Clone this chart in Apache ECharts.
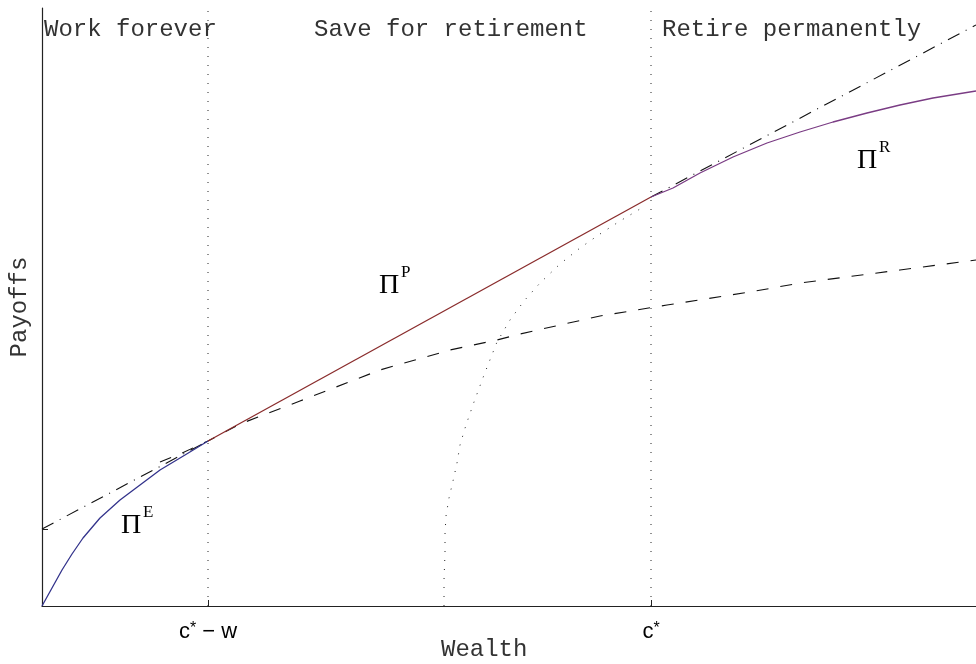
<!DOCTYPE html>
<html>
<head>
<meta charset="utf-8">
<script src="https://cdn.jsdelivr.net/npm/echarts@6/dist/echarts.min.js"></script>
<style>
  html, body { margin: 0; padding: 0; background: #fff; }
  #chart { width: 976px; height: 664px; }
</style>
</head>
<body>
<div id="chart"></div>
<script>
// wealth ticks on the x axis
const xTicks = [166, 609]
const xTickLabels = ['c* \u2212 w', 'c*']
const yTicks = [77]

const regionLabels = ['Work forever', 'Save for retirement', 'Retire permanently']

// payoff curves, [wealth, payoff]
const piE = [[0, 0], [10, 18], [20, 36], [30, 52], [41, 68], [58, 88], [78, 106], [98, 121], [118, 136], [143, 151], [166, 165]]
const piP = [[166, 165], [609, 409]]
const piR = [[609, 409], [631, 418], [658, 433], [691, 449], [725, 463], [758, 474], [791, 484], [825, 493], [858, 501], [891, 508], [934, 515]]
const tangent = [[0, 77], [166, 165], null, [609, 409], [934, 581]]
const workValue = [[118, 144], [140, 153], [166, 165], [198, 182], [258, 205], [338, 236], [408, 256], [455, 266], [478, 272], [558, 290], [625, 301], [708, 314], [758, 323], [858, 336], [934, 346]]
const threshold = [[402, 0], [402, 26], [403, 53], [403, 72], [404, 90], [407, 108], [411, 125], [415, 143], [418, 161], [424, 181], [432, 204], [442, 231], [455, 264], [468, 286], [482, 305], [498, 323], [518, 342], [538, 358], [558, 372], [578, 385], [598, 397]]

const mono = '"Courier New", "Liberation Mono", monospace'
const serif = '"Liberation Serif", "DejaVu Serif", serif'
const sans = '"Liberation Sans", Arial, sans-serif'

function line(name, data, color, type, width) {
  return {
    name: name,
    type: 'line',
    data: data,
    showSymbol: false,
    connectNulls: false,
    silent: true,
    lineStyle: { color: color, type: type, width: width }
  }
}

function piLabel(x, y, sup) {
  return [
    { type: 'text', left: x, top: y, style: { text: '\u03A0', font: '28px ' + serif, fill: '#000' } },
    { type: 'text', left: x + 22, top: y - 8, style: { text: sup, font: '17px ' + serif, fill: '#000' } }
  ]
}

const chart = echarts.init(document.getElementById('chart'))
chart.setOption({
  animation: false,
  backgroundColor: '#fff',
  grid: { left: 42, right: 0, top: 8, bottom: 58, outerBoundsMode: 'none', containLabel: false },
  xAxis: {
    type: 'value',
    min: 0,
    max: 934,
    axisLine: { onZero: false, lineStyle: { color: '#222', width: 1.2 } },
    axisTick: { customValues: xTicks, inside: true, length: 6, lineStyle: { color: '#222' } },
    axisLabel: {
      customValues: xTicks,
      margin: 15,
      color: '#000',
      fontFamily: sans,
      fontSize: 22,
      formatter: function (v) {
        const i = xTicks.indexOf(v)
        return i < 0 ? '' : xTickLabels[i].replace('*', '{s|*}')
      },
      rich: { s: { fontSize: 16, verticalAlign: 'top', fontFamily: sans, color: '#000' } }
    },
    splitLine: { show: false }
  },
  yAxis: {
    type: 'value',
    min: 0,
    max: 598,
    name: 'Payoffs',
    nameLocation: 'middle',
    nameGap: 10,
    nameTextStyle: { fontFamily: mono, fontSize: 24, color: '#333' },
    axisLine: { show: true, onZero: false, lineStyle: { color: '#222', width: 1.2 } },
    axisTick: { customValues: yTicks, inside: true, length: 6, lineStyle: { color: '#222' } },
    axisLabel: { show: false },
    splitLine: { show: false }
  },
  series: [
    line('cut1', [[xTicks[0], 0], [xTicks[0], 598]], '#222', [1, 8], 1),
    line('cut2', [[xTicks[1], 0], [xTicks[1], 598]], '#222', [1, 8], 1),
    line('tangent', tangent, '#111', [13, 7, 1, 7], 1.1),
    line('work', workValue, '#111', [12, 12], 1.1),
    line('threshold', threshold, '#222', [1, 8], 1),
    line('PiE', piE, '#34348c', 'solid', 1.3),
    line('PiP', piP, '#8a2c2c', 'solid', 1.3),
    line('PiR', piR, '#7a3c84', 'solid', 1.3)
  ],
  graphic: [
    { type: 'text', left: 44, top: 18, style: { text: regionLabels[0], font: '24px ' + mono, fill: '#333' } },
    { type: 'text', left: 314, top: 18, style: { text: regionLabels[1], font: '24px ' + mono, fill: '#333' } },
    { type: 'text', left: 662, top: 18, style: { text: regionLabels[2], font: '24px ' + mono, fill: '#333' } },
    { type: 'text', left: 441, top: 638, style: { text: 'Wealth', font: '24px ' + mono, fill: '#333' } }
  ].concat(piLabel(121, 512, 'E'), piLabel(379, 272, 'P'), piLabel(857, 147, 'R'))
})
</script>
</body>
</html>
